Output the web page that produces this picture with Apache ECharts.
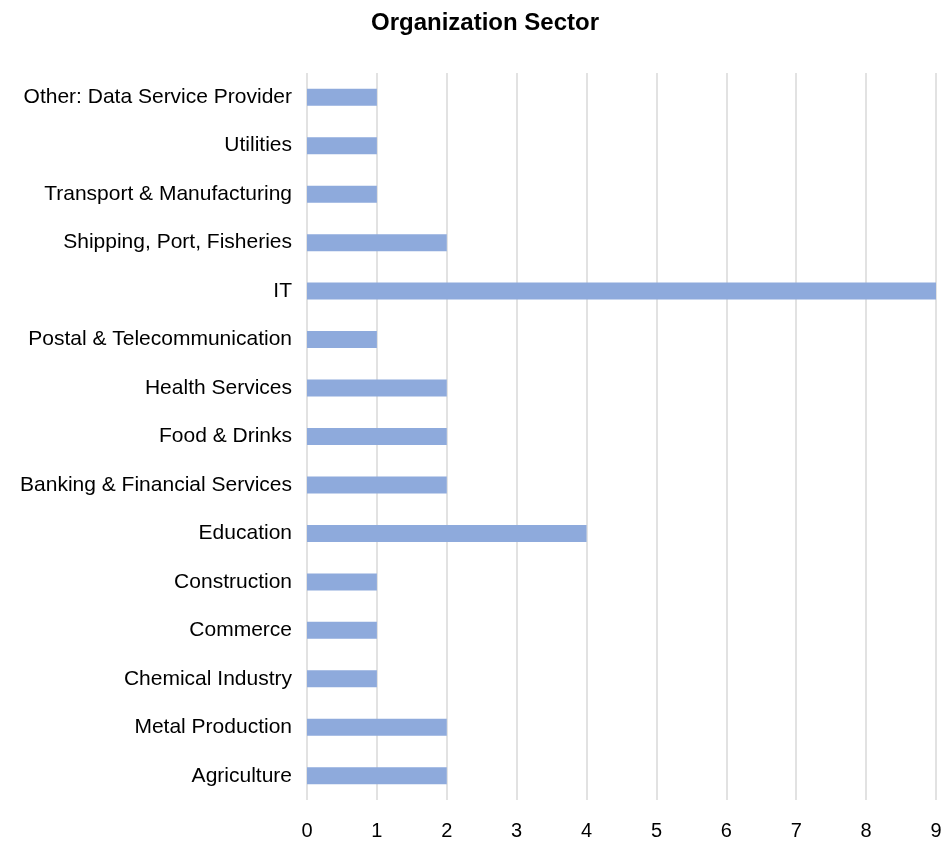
<!DOCTYPE html>
<html>
<head>
<meta charset="utf-8">
<script src="https://cdn.jsdelivr.net/npm/echarts@6/dist/echarts.min.js"></script>
<style>
  html, body { margin: 0; padding: 0; background: #fff; }
  #chart { width: 950px; height: 846px; }
</style>
</head>
<body>
<div id="chart"></div>
<script>
// categories listed bottom to top (category axis starts at the bottom)
const sectors = [
  "Agriculture",
  "Metal Production",
  "Chemical Industry",
  "Commerce",
  "Construction",
  "Education",
  "Banking & Financial Services",
  "Food & Drinks",
  "Health Services",
  "Postal & Telecommunication",
  "IT",
  "Shipping, Port, Fisheries",
  "Transport & Manufacturing",
  "Utilities",
  "Other: Data Service Provider",
];
const counts = [2, 2, 1, 1, 1, 4, 2, 2, 2, 1, 9, 2, 1, 1, 1];

const chart = echarts.init(document.getElementById("chart"));
const fontFamily = "'Liberation Sans', Arial, Helvetica, sans-serif";

const option = {
  animation: false,
  title: {
    text: "Organization Sector",
    left: 480,
    textAlign: "center",
    top: 6,
    textStyle: {
      fontFamily: fontFamily,
      fontSize: 24,
      fontWeight: "bold",
      color: "#000",
    },
  },
  grid: {
    left: 307,
    right: 14,
    top: 73,
    bottom: 46,
    containLabel: false,
  },
  xAxis: {
    type: "value",
    min: 0,
    max: 9,
    interval: 1,
    axisLine: { show: false },
    axisTick: { show: false },
    axisLabel: {
      color: "#000",
      fontFamily: fontFamily,
      fontSize: 20,
      margin: 21,
    },
    splitLine: {
      show: true,
      lineStyle: { color: "#e2e2e2", width: 2 },
    },
  },
  yAxis: {
    type: "category",
    data: sectors,
    axisLine: { show: false },
    axisTick: { show: false },
    axisLabel: {
      color: "#000",
      fontFamily: fontFamily,
      fontSize: 21,
      margin: 15,
      padding: [4, 0, 0, 0],
    },
  },
  series: [
    {
      name: "Count",
      type: "bar",
      data: counts,
      barWidth: 17,
      itemStyle: { color: "#8eaadc" },
    },
  ],
};

chart.setOption(option);
</script>
</body>
</html>
